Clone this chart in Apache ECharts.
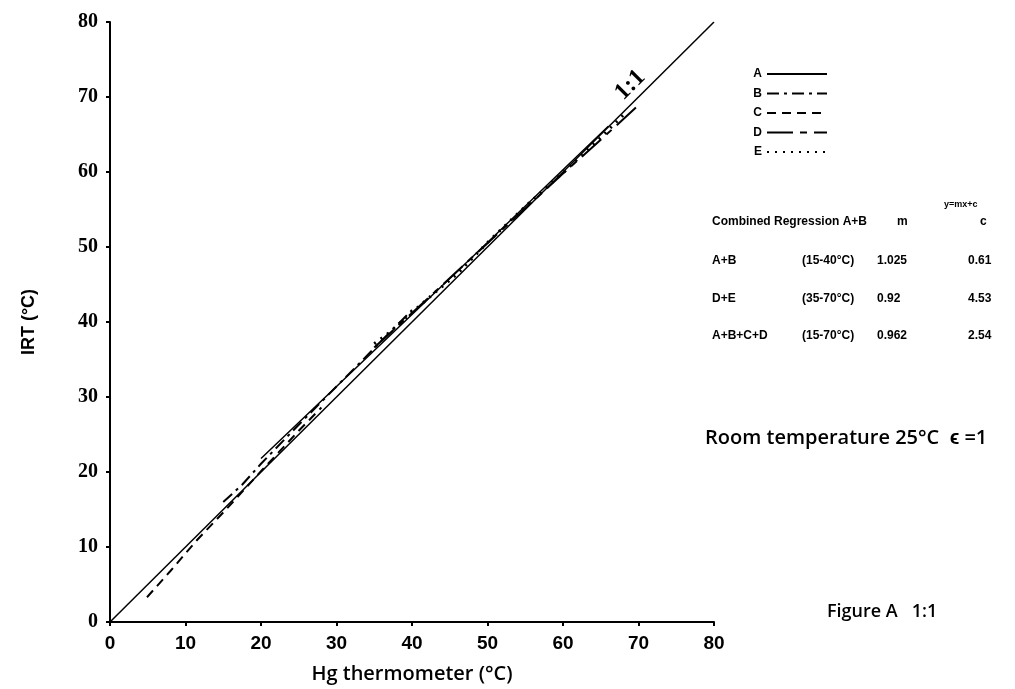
<!DOCTYPE html>
<html>
<head>
<meta charset="utf-8">
<title>Figure A 1:1</title>
<script src="https://cdn.jsdelivr.net/npm/echarts@6/dist/echarts.min.js"></script>
<style>
  html, body { margin: 0; padding: 0; background: #fff; }
  #chart { width: 1015px; height: 689px; }
</style>
</head>
<body>
<div id="chart"></div>
<script>
// axis ticks
const xTicks = [0, 10, 20, 30, 40, 50, 60, 70, 80]
const yTicks = [0, 10, 20, 30, 40, 50, 60, 70, 80]

// 1:1 reference line and the five traces as [Hg, IRT]
const oneToOne = [[0, 0], [80, 80]]
const lineA = [[20, 21.8], [25, 26.6], [30, 31.4], [40, 41.0], [50, 50.6], [60, 60.3], [66, 66.1]]
const lineB = [[15, 16.0], [17.5, 18.3], [20, 21.1], [25, 26.3], [30, 31.4], [35, 36.5], [40, 41.6]]
const lineC = [[4.9, 3.3], [8, 6.8], [11.5, 10.9], [15, 14.6], [20, 20.1], [25, 25.5], [28, 28.6]]
const lineD = [[35, 36.6], [40, 41.2], [50, 50.5], [60, 59.8], [65, 64.3], [70, 68.9]]
const lineE = [[35, 37.1], [37, 38.6], [40, 41.3], [43, 43.9], [46, 46.4], [50, 50.6], [55, 55.4], [60, 59.9], [65, 64.6], [68, 67.6]]

// regression table
const regNames = ['A+B', 'D+E', 'A+B+C+D']
const regRanges = ['(15-40°C)', '(35-70°C)', '(15-70°C)']
const regM = ['1.025', '0.92', '0.962']
const regC = ['0.61', '4.53', '2.54']

const chart = echarts.init(document.getElementById('chart'))

const tableFont = 'bold 12px "Liberation Sans", Arial, sans-serif'
const tableText = []
tableText.push({ type: 'text', left: 944, top: 200, style: { text: 'y=mx+c', font: 'bold 9px "Liberation Sans", sans-serif', fill: '#000' } })
tableText.push({ type: 'text', left: 712, top: 216, style: { text: 'Combined Regression A+B', font: tableFont, fill: '#000' } })
tableText.push({ type: 'text', left: 897, top: 216, style: { text: 'm', font: tableFont, fill: '#000' } })
tableText.push({ type: 'text', left: 980, top: 216, style: { text: 'c', font: tableFont, fill: '#000' } })
const rowTops = [255, 293, 330]
regNames.forEach(function (name, i) {
  tableText.push({ type: 'text', left: 712, top: rowTops[i], style: { text: name, font: tableFont, fill: '#000' } })
  tableText.push({ type: 'text', left: 802, top: rowTops[i], style: { text: regRanges[i], font: tableFont, fill: '#000' } })
  tableText.push({ type: 'text', left: 877, top: rowTops[i], style: { text: regM[i], font: tableFont, fill: '#000' } })
  tableText.push({ type: 'text', left: 968, top: rowTops[i], style: { text: regC[i], font: tableFont, fill: '#000' } })
})

const option = {
  animation: false,
  backgroundColor: '#fff',
  color: ['#000'],
  grid: { left: 110, right: 301, top: 22, bottom: 64 },
  legend: {
    orient: 'vertical',
    left: 737,
    top: 63,
    align: 'right',
    itemWidth: 60,
    itemHeight: 12,
    itemGap: 7.5,
    itemStyle: { opacity: 0 },
    textStyle: { fontSize: 12, lineHeight: 12, fontWeight: 'bold', color: '#000', width: 20, fontFamily: 'Liberation Sans' },
    data: ['A', 'B', 'C', 'D', 'E']
  },
  xAxis: {
    type: 'value',
    min: 0,
    max: 80,
    interval: 10,
    name: 'Hg thermometer (°C)',
    nameLocation: 'middle',
    nameGap: 42,
    nameTextStyle: { fontSize: 20, fontFamily: 'Open Sans', fontWeight: 600, color: '#000' },
    axisLine: { lineStyle: { color: '#000', width: 2 } },
    axisTick: { show: true, length: 4, lineStyle: { color: '#000', width: 2 } },
    axisLabel: {
      margin: 12,
      fontSize: 19,
      fontWeight: 'bold',
      fontFamily: '"Liberation Sans Narrow", "Liberation Sans", sans-serif',
      color: '#000',
      formatter: function (v) { return xTicks.indexOf(v) >= 0 ? String(v) : '' }
    },
    splitLine: { show: false }
  },
  yAxis: {
    type: 'value',
    min: 0,
    max: 80,
    interval: 10,
    name: 'IRT (°C)',
    nameLocation: 'middle',
    nameGap: 72,
    nameTextStyle: { fontSize: 18, fontFamily: 'Liberation Sans', fontWeight: 'bold', color: '#000' },
    axisLine: { show: true, lineStyle: { color: '#000', width: 2 } },
    axisTick: { show: true, length: 4, lineStyle: { color: '#000', width: 2 } },
    axisLabel: {
      margin: 12,
      fontSize: 20,
      fontWeight: 'bold',
      fontFamily: '"Liberation Serif", "DejaVu Serif", serif',
      color: '#000',
      formatter: function (v) { return yTicks.indexOf(v) >= 0 ? String(v) : '' }
    },
    splitLine: { show: false }
  },
  series: [
    {
      name: '1:1',
      type: 'line',
      data: oneToOne,
      symbol: 'none',
      lineStyle: { color: '#000', width: 1.5 },
      markPoint: {
        symbol: 'circle',
        symbolSize: 0,
        data: [{ coord: [68.9, 71.6] }],
        label: {
          show: true,
          formatter: '1:1',
          rotate: 45,
          fontSize: 24,
          fontWeight: 'bold',
          fontFamily: '"Liberation Serif", serif',
          color: '#000'
        }
      }
    },
    { name: 'A', type: 'line', data: lineA, symbol: 'none', lineStyle: { color: '#000', width: 1.5, type: 'solid' } },
    { name: 'B', type: 'line', data: lineB, symbol: 'none', lineStyle: { color: '#000', width: 2, type: [12, 5, 3, 5] } },
    { name: 'C', type: 'line', data: lineC, symbol: 'none', lineStyle: { color: '#000', width: 2, type: [9, 6] } },
    { name: 'D', type: 'line', data: lineD, symbol: 'none', lineStyle: { color: '#000', width: 2, type: [26, 7, 7, 7] } },
    { name: 'E', type: 'line', data: lineE, symbol: 'none', lineStyle: { color: '#000', width: 3, type: [2, 6] } }
  ],
  graphic: tableText.concat([
    {
      type: 'text',
      left: 705,
      top: 428,
      style: { text: 'Room temperature 25°C  ϵ =1', font: '600 20px "Open Sans", sans-serif', fill: '#000' }
    },
    {
      type: 'text',
      left: 827,
      top: 603,
      style: { text: 'Figure A   1:1', font: '600 18px "Open Sans", sans-serif', fill: '#000' }
    }
  ])
}

chart.setOption(option)
window.addEventListener('resize', function () { chart.resize() })
</script>
</body>
</html>
